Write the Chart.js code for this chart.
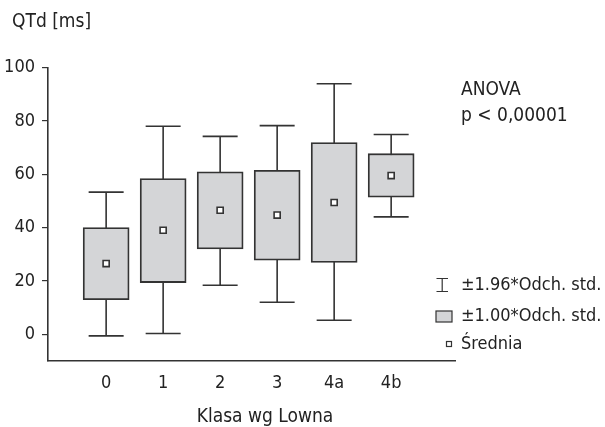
<!DOCTYPE html>
<html>
<head>
<meta charset="utf-8">
<script src="https://cdn.jsdelivr.net/npm/chart.js@4/dist/chart.umd.min.js"></script>
<style>
  html, body { margin: 0; padding: 0; background: #fff; }
  #wrap { width: 605px; height: 427px; }
</style>
</head>
<body>
<div id="wrap"><canvas id="qtdChart" width="605" height="427"></canvas></div>
<script>
// Lown class groups
const categories = ["0", "1", "2", "3", "4a", "4b"];
// group means
const means = [26.5, 39, 46.5, 44.7, 49.4, 59.5];
// mean +/- 1.00 SD (box)
const boxLow = [13, 19.4, 32, 27.8, 26.9, 51.4];
const boxHigh = [40, 58.4, 60.9, 61.5, 71.9, 67.7];
// mean +/- 1.96 SD (whiskers)
const whiskLow = [-0.6, 0.3, 18.4, 12, 5.3, 44];
const whiskHigh = [53.3, 78, 74.2, 78.2, 93.9, 74.9];
// y axis ticks
const yTicks = [0, 20, 40, 60, 80, 100];

const FONT = "'DejaVu Sans Condensed', 'DejaVu Sans', sans-serif";
const INK = "#222222";
const LINE = "#333333";
const BOX_FILL = "#d4d5d7";

// whiskers drawn under the boxes
const whiskerPlugin = {
  id: "whiskers",
  beforeDatasetsDraw(chart) {
    const ctx = chart.ctx;
    const xs = chart.scales.x, ys = chart.scales.y;
    ctx.save();
    ctx.strokeStyle = LINE;
    ctx.lineWidth = 1.6;
    categories.forEach((c, i) => {
      const x = xs.getPixelForValue(i);
      const yl = ys.getPixelForValue(whiskLow[i]);
      const yh = ys.getPixelForValue(whiskHigh[i]);
      ctx.beginPath();
      ctx.moveTo(x, yl); ctx.lineTo(x, yh);
      ctx.moveTo(x - 17.5, yl); ctx.lineTo(x + 17.5, yl);
      ctx.moveTo(x - 17.5, yh); ctx.lineTo(x + 17.5, yh);
      ctx.stroke();
    });
    ctx.restore();
  }
};

// titles, ANOVA note and legend
const textPlugin = {
  id: "texts",
  afterDraw(chart) {
    const ctx = chart.ctx;
    ctx.save();
    ctx.fillStyle = INK;
    ctx.textBaseline = "middle";
    ctx.font = "19px " + FONT;
    ctx.textAlign = "left";
    ctx.fillText("QTd [ms]", 12, 22);
    ctx.fillText("ANOVA", 461, 90);
    ctx.fillText("p < 0,00001", 461, 116);
    ctx.textAlign = "center";
    ctx.fillText("Klasa wg Lowna", 265, 417);

    // legend
    ctx.textAlign = "left";
    ctx.font = "18px " + FONT;
    const rows = [285, 316, 344];
    ctx.fillText("±1.96*Odch. std.", 461, rows[0]);
    ctx.fillText("±1.00*Odch. std.", 461, rows[1]);
    ctx.fillText("Średnia", 461, rows[2]);

    ctx.strokeStyle = LINE;
    ctx.lineWidth = 1.2;
    // whisker icon
    ctx.beginPath();
    ctx.moveTo(436.5, rows[0] - 6.5); ctx.lineTo(448, rows[0] - 6.5);
    ctx.moveTo(442.2, rows[0] - 6.5); ctx.lineTo(442.2, rows[0] + 6.5);
    ctx.moveTo(436.5, rows[0] + 6.5); ctx.lineTo(448, rows[0] + 6.5);
    ctx.stroke();
    // box icon
    ctx.fillStyle = BOX_FILL;
    ctx.fillRect(436, rows[1] - 5, 16, 11);
    ctx.strokeRect(436, rows[1] - 5, 16, 11);
    // mean icon
    ctx.fillStyle = "#fff";
    ctx.fillRect(446.5, rows[2] - 2.5, 5, 5);
    ctx.strokeRect(446.5, rows[2] - 2.5, 5, 5);
    ctx.restore();
  }
};

const boxData = categories.map((c, i) => ({ x: i, y: [boxLow[i], boxHigh[i]] }));
const meanData = categories.map((c, i) => ({ x: i, y: means[i] }));

new Chart("qtdChart", {
  type: "bar",
  data: {
    datasets: [
      {
        type: "scatter",
        label: "Średnia",
        data: meanData,
        pointStyle: "rect",
        pointRadius: 4.3,
        pointBackgroundColor: "#fff",
        pointBorderColor: LINE,
        pointBorderWidth: 1.6,
        order: 0
      },
      {
        label: "±1.00*Odch. std.",
        data: boxData,
        backgroundColor: BOX_FILL,
        borderColor: LINE,
        borderWidth: 1.8,
        borderSkipped: false,
        barThickness: 46,
        order: 1
      }
    ]
  },
  options: {
    responsive: false,
    animation: false,
    events: [],
    layout: { padding: { left: 0, top: 67.5, right: 150, bottom: 0 } },
    plugins: {
      legend: { display: false },
      tooltip: { enabled: false }
    },
    scales: {
      x: {
        type: "linear",
        offset: false,
        min: -1.02,
        max: 6.12,
        afterBuildTicks: (axis) => { axis.ticks = categories.map((c, i) => ({ value: i })); },
        afterFit: (axis) => { axis.height = 66; },
        ticks: {
          callback: (v) => categories[v],
          color: INK,
          font: { family: FONT, size: 18 },
          padding: 12,
          maxRotation: 0
        },
        grid: { display: false, drawTicks: false, offset: false },
        border: { display: true, color: LINE, width: 1.6 }
      },
      y: {
        min: -10,
        max: 100,
        afterBuildTicks: (axis) => { axis.ticks = yTicks.map(v => ({ value: v })); },
        afterFit: (axis) => { axis.width = 48; },
        ticks: {
          color: INK,
          font: { family: FONT, size: 18 },
          padding: 7
        },
        grid: { display: true, drawOnChartArea: false, drawTicks: true, tickLength: 6, color: LINE, lineWidth: 1.2 },
        border: { display: true, color: LINE, width: 1.6 }
      }
    }
  },
  plugins: [whiskerPlugin, textPlugin]
});
</script>
</body>
</html>
